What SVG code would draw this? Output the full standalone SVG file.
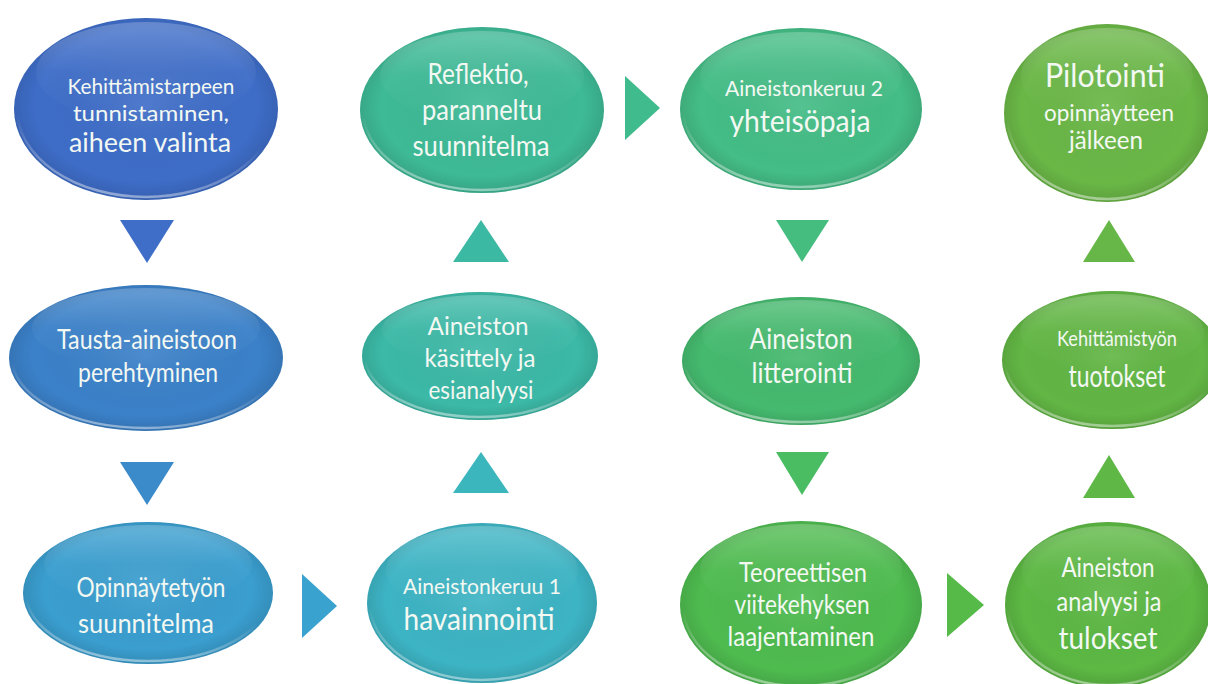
<svg xmlns="http://www.w3.org/2000/svg" width="1208" height="684" viewBox="0 0 1208 684">
<style>
  .lbl { font-family: "Lato", "Open Sans", "Liberation Sans", sans-serif; fill: #f3f8f3; text-anchor: middle; }
  .shade { fill: url(#shade); }
  .hl { fill: url(#hl); }
  .rim { fill: none; stroke: url(#rim); stroke-width: 2.5; }
</style>
<defs>
  <radialGradient id="shade" cx="50%" cy="48%" r="52%">
    <stop offset="0" stop-color="#ffffff" stop-opacity="0.08"/>
    <stop offset="0.8" stop-color="#000000" stop-opacity="0"/>
    <stop offset="1" stop-color="#000000" stop-opacity="0.12"/>
  </radialGradient>
  <linearGradient id="hl" x1="0" y1="0" x2="0" y2="1">
    <stop offset="0" stop-color="#ffffff" stop-opacity="0.22"/>
    <stop offset="0.5" stop-color="#ffffff" stop-opacity="0.04"/>
    <stop offset="1" stop-color="#ffffff" stop-opacity="0"/>
  </linearGradient>
  <linearGradient id="rim" x1="0.2" y1="0" x2="0" y2="1">
    <stop offset="0.55" stop-color="#ffffff" stop-opacity="0"/>
    <stop offset="1" stop-color="#ffffff" stop-opacity="0.55"/>
  </linearGradient>
</defs>
<rect width="1208" height="684" fill="#ffffff"/>

<g id="connectors">
  <polygon points="120,220 174,220 147,263" fill="#3e6ec8"/>
  <polygon points="120,462 174,462 147,505" fill="#3b8aca"/>
  <polygon points="302,574 302,638 337,606" fill="#3aa2ce"/>
  <polygon points="453,493 509,493 481,452" fill="#3bb6bd"/>
  <polygon points="453,262 509,262 481,220" fill="#3cb9a3"/>
  <polygon points="625,76 625,140 660,108" fill="#40bb8e"/>
  <polygon points="776,220 829,220 802,262" fill="#45bd7f"/>
  <polygon points="776,452 829,452 802,495" fill="#4abd63"/>
  <polygon points="947,573 947,637 984,605" fill="#55ba48"/>
  <polygon points="1083,498 1135,498 1109,455" fill="#5fb746"/>
  <polygon points="1083,262 1135,262 1109,220" fill="#66b748"/>
</g>

<g id="n1">
  <ellipse cx="146" cy="109" rx="132" ry="91" fill="#3e6dc8"/>
  <ellipse class="shade" cx="146" cy="109" rx="132" ry="91"/>
  <ellipse class="hl" cx="146" cy="72" rx="110" ry="50"/>
  <ellipse class="rim" cx="146" cy="109" rx="129" ry="88"/>
  <text class="lbl" x="151" y="94" font-size="22" textLength="167" lengthAdjust="spacingAndGlyphs">Kehittämistarpeen</text>
  <text class="lbl" x="151" y="121" font-size="22" textLength="156" lengthAdjust="spacingAndGlyphs">tunnistaminen,</text>
  <text class="lbl" x="150" y="152" font-size="26" textLength="162" lengthAdjust="spacingAndGlyphs">aiheen valinta</text>
</g>

<g id="n2">
  <ellipse cx="146" cy="358" rx="137" ry="73" fill="#3b81c9"/>
  <ellipse class="shade" cx="146" cy="358" rx="137" ry="73"/>
  <ellipse class="hl" cx="146" cy="328" rx="114" ry="40"/>
  <ellipse class="rim" cx="146" cy="358" rx="134" ry="70"/>
  <text class="lbl" x="147" y="349" font-size="26" textLength="180" lengthAdjust="spacingAndGlyphs">Tausta-aineistoon</text>
  <text class="lbl" x="148" y="382" font-size="26" textLength="140" lengthAdjust="spacingAndGlyphs">perehtyminen</text>
</g>

<g id="n3">
  <ellipse cx="148" cy="593" rx="125" ry="71" fill="#3a9ecf"/>
  <ellipse class="shade" cx="148" cy="593" rx="125" ry="71"/>
  <ellipse class="hl" cx="148" cy="564" rx="104" ry="39"/>
  <ellipse class="rim" cx="148" cy="593" rx="122" ry="68"/>
  <text class="lbl" x="151" y="597" font-size="27" textLength="149" lengthAdjust="spacingAndGlyphs">Opinnäytetyön</text>
  <text class="lbl" x="146" y="633" font-size="27" textLength="136" lengthAdjust="spacingAndGlyphs">suunnitelma</text>
</g>

<g id="n4">
  <ellipse cx="482" cy="603" rx="115" ry="80" fill="#3db4c4"/>
  <ellipse class="shade" cx="482" cy="603" rx="115" ry="80"/>
  <ellipse class="hl" cx="482" cy="570" rx="96" ry="44"/>
  <ellipse class="rim" cx="482" cy="603" rx="112" ry="77"/>
  <text class="lbl" x="482" y="594" font-size="22" textLength="158" lengthAdjust="spacingAndGlyphs">Aineistonkeruu 1</text>
  <text class="lbl" x="479" y="630" font-size="31" textLength="151" lengthAdjust="spacingAndGlyphs">havainnointi</text>
</g>

<g id="n5">
  <ellipse cx="480" cy="356" rx="118" ry="64" fill="#3cb9a7"/>
  <ellipse class="shade" cx="480" cy="356" rx="118" ry="64"/>
  <ellipse class="hl" cx="480" cy="330" rx="98" ry="35"/>
  <ellipse class="rim" cx="480" cy="356" rx="115" ry="61"/>
  <text class="lbl" x="478" y="335" font-size="25" textLength="101" lengthAdjust="spacingAndGlyphs">Aineiston</text>
  <text class="lbl" x="480" y="367" font-size="25" textLength="111" lengthAdjust="spacingAndGlyphs">käsittely ja</text>
  <text class="lbl" x="481" y="399" font-size="25" textLength="105" lengthAdjust="spacingAndGlyphs">esianalyysi</text>
</g>

<g id="n6">
  <ellipse cx="482" cy="110" rx="122" ry="83" fill="#3eba96"/>
  <ellipse class="shade" cx="482" cy="110" rx="122" ry="83"/>
  <ellipse class="hl" cx="482" cy="76" rx="102" ry="45"/>
  <ellipse class="rim" cx="482" cy="110" rx="119" ry="80"/>
  <text class="lbl" x="478" y="84" font-size="29" textLength="101" lengthAdjust="spacingAndGlyphs">Reflektio,</text>
  <text class="lbl" x="482" y="120" font-size="28" textLength="120" lengthAdjust="spacingAndGlyphs">paranneltu</text>
  <text class="lbl" x="481" y="156" font-size="28" textLength="137" lengthAdjust="spacingAndGlyphs">suunnitelma</text>
</g>

<g id="n7">
  <ellipse cx="801" cy="109" rx="121" ry="81" fill="#44bd86"/>
  <ellipse class="shade" cx="801" cy="109" rx="121" ry="81"/>
  <ellipse class="hl" cx="801" cy="76" rx="101" ry="44"/>
  <ellipse class="rim" cx="801" cy="109" rx="118" ry="78"/>
  <text class="lbl" x="804" y="96" font-size="22" textLength="158" lengthAdjust="spacingAndGlyphs">Aineistonkeruu 2</text>
  <text class="lbl" x="800" y="132" font-size="31" textLength="141" lengthAdjust="spacingAndGlyphs">yhteisöpaja</text>
</g>

<g id="n8">
  <ellipse cx="801" cy="361" rx="119" ry="64" fill="#45ba6e"/>
  <ellipse class="shade" cx="801" cy="361" rx="119" ry="64"/>
  <ellipse class="hl" cx="801" cy="335" rx="99" ry="35"/>
  <ellipse class="rim" cx="801" cy="361" rx="116" ry="61"/>
  <text class="lbl" x="801" y="349" font-size="28" textLength="103" lengthAdjust="spacingAndGlyphs">Aineiston</text>
  <text class="lbl" x="802" y="383" font-size="28" textLength="101" lengthAdjust="spacingAndGlyphs">litterointi</text>
</g>

<g id="n9">
  <ellipse cx="801" cy="605" rx="121" ry="84" fill="#4ebb4f"/>
  <ellipse class="shade" cx="801" cy="605" rx="121" ry="84"/>
  <ellipse class="hl" cx="801" cy="570" rx="101" ry="46"/>
  <ellipse class="rim" cx="801" cy="605" rx="118" ry="81"/>
  <text class="lbl" x="803" y="582" font-size="26" textLength="128" lengthAdjust="spacingAndGlyphs">Teoreettisen</text>
  <text class="lbl" x="802" y="614" font-size="26" textLength="135" lengthAdjust="spacingAndGlyphs">viitekehyksen</text>
  <text class="lbl" x="801" y="646" font-size="26" textLength="147" lengthAdjust="spacingAndGlyphs">laajentaminen</text>
</g>

<g id="n10">
  <ellipse cx="1108" cy="605" rx="103" ry="83" fill="#5cb843"/>
  <ellipse class="shade" cx="1108" cy="605" rx="103" ry="83"/>
  <ellipse class="hl" cx="1108" cy="571" rx="86" ry="45"/>
  <ellipse class="rim" cx="1108" cy="605" rx="100" ry="80"/>
  <text class="lbl" x="1108" y="577" font-size="26" textLength="93" lengthAdjust="spacingAndGlyphs">Aineiston</text>
  <text class="lbl" x="1109" y="611" font-size="26" textLength="105" lengthAdjust="spacingAndGlyphs">analyysi ja</text>
  <text class="lbl" x="1108" y="649" font-size="31" textLength="99" lengthAdjust="spacingAndGlyphs">tulokset</text>
</g>

<g id="n11">
  <ellipse cx="1112" cy="360" rx="110" ry="69" fill="#62b644"/>
  <ellipse class="shade" cx="1112" cy="360" rx="110" ry="69"/>
  <ellipse class="hl" cx="1112" cy="332" rx="92" ry="38"/>
  <ellipse class="rim" cx="1112" cy="360" rx="107" ry="66"/>
  <text class="lbl" x="1117" y="346" font-size="21" textLength="120" lengthAdjust="spacingAndGlyphs">Kehittämistyön</text>
  <text class="lbl" x="1117" y="387" font-size="31" textLength="97" lengthAdjust="spacingAndGlyphs">tuotokset</text>
</g>

<g id="n12">
  <ellipse cx="1107" cy="113" rx="103" ry="89" fill="#6ab746"/>
  <ellipse class="shade" cx="1107" cy="113" rx="103" ry="89"/>
  <ellipse class="hl" cx="1107" cy="76" rx="86" ry="48"/>
  <ellipse class="rim" cx="1107" cy="113" rx="100" ry="86"/>
  <text class="lbl" x="1105" y="87" font-size="32" textLength="120" lengthAdjust="spacingAndGlyphs">Pilotointi</text>
  <text class="lbl" x="1109" y="121" font-size="24" textLength="130" lengthAdjust="spacingAndGlyphs">opinnäytteen</text>
  <text class="lbl" x="1106" y="149" font-size="25" textLength="74" lengthAdjust="spacingAndGlyphs">jälkeen</text>
</g>
</svg>
